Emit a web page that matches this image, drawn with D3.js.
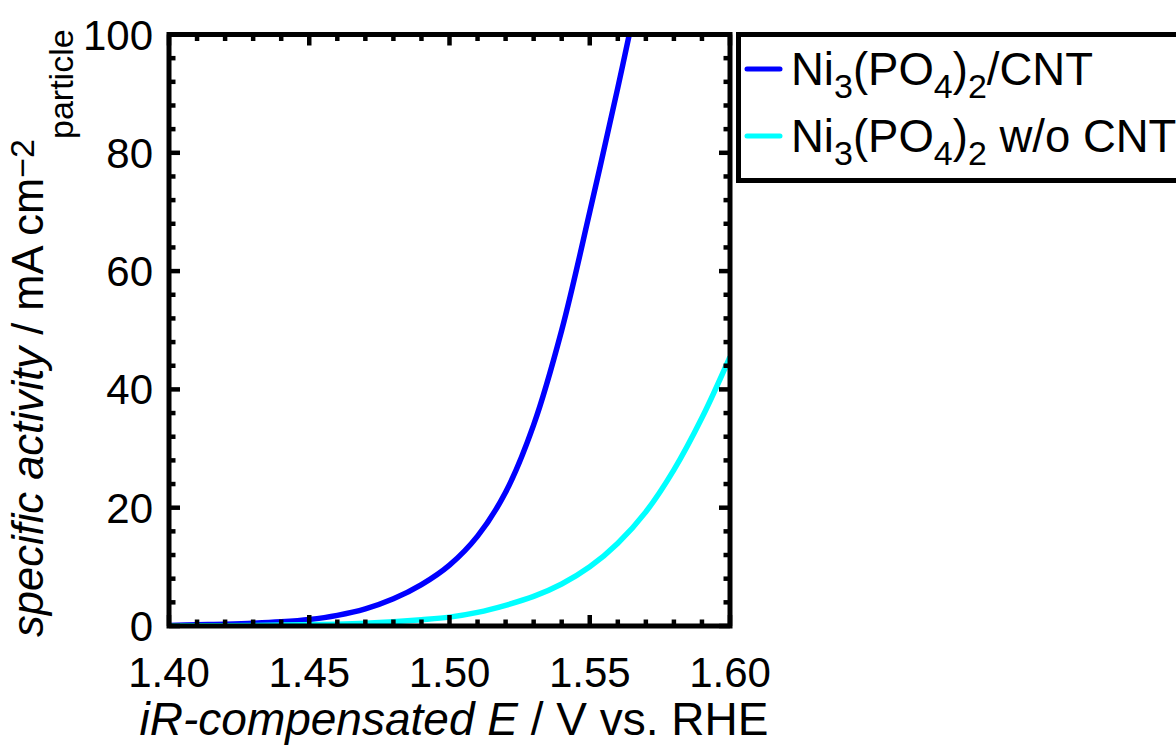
<!DOCTYPE html>
<html>
<head>
<meta charset="utf-8">
<script src="https://cdn.jsdelivr.net/npm/d3@7"></script>
<style>
  html, body { margin: 0; padding: 0; background: #fff; }
  svg { display: block; }
  text { font-family: "Liberation Sans", Arial, sans-serif; fill: #000; }
</style>
</head>
<body>
<svg id="chart" width="1176" height="750"></svg>
<script>
// ---- data ----
const seriesNames = ["Ni3(PO4)2/CNT", "Ni3(PO4)2 w/o CNT"];
const seriesColors = ["#0000ff", "#00ffff"];
const cntE = [1.40,1.41,1.42,1.43,1.44,1.45,1.46,1.47,1.48,1.49,1.50,1.51,1.52,1.53,1.54,1.55,1.56,1.565];
const cntJ = [0.1,0.2,0.3,0.45,0.7,1.1,1.8,2.9,4.6,7.0,10.3,15.2,22.6,34.0,50.0,70.0,91.0,102.0];
const woE = [1.40,1.42,1.44,1.46,1.47,1.48,1.49,1.50,1.51,1.52,1.53,1.54,1.55,1.56,1.57,1.58,1.59,1.60];
const woJ = [0.0,0.05,0.15,0.3,0.45,0.7,1.05,1.5,2.3,3.5,5.0,7.1,10.0,14.0,19.3,26.4,35.2,45.5];
const xMajorTicks = [1.40,1.45,1.50,1.55,1.60];
const xTickLabels = ["1.40","1.45","1.50","1.55","1.60"];
const yMajorTicks = [0,20,40,60,80,100];
const yTickLabels = ["0","20","40","60","80","100"];

// ---- layout ----
const svg = d3.select("#chart");
const L = 169, R = 730, T = 34.5, B = 626;
const x = d3.scaleLinear().domain([1.40, 1.60]).range([L, R]);
const y = d3.scaleLinear().domain([0, 100]).range([B, T]);

svg.append("defs").append("clipPath").attr("id", "clip")
  .append("rect").attr("x", L).attr("y", T).attr("width", R - L).attr("height", B - T);

// curves
const line = d3.line().x(d => x(d[0])).y(d => y(d[1])).curve(d3.curveCatmullRom.alpha(0.5));
const series = [d3.zip(cntE, cntJ), d3.zip(woE, woJ)];
[0, 1].forEach(i => {
  svg.append("path")
    .attr("d", line(series[i]))
    .attr("fill", "none")
    .attr("stroke", seriesColors[i])
    .attr("stroke-width", 5.5)
    .attr("stroke-linejoin", "round")
    .attr("clip-path", "url(#clip)");
});

// ticks (inward on all sides)
const xMinor = d3.range(0, 21).map(i => 1.40 + i * 0.01).filter(v => !xMajorTicks.some(m => Math.abs(m - v) < 1e-9));
const yMinor = d3.range(0, 26).map(i => i * 4).filter(v => v % 20 !== 0);
const tickG = svg.append("g").attr("stroke", "#000").attr("stroke-width", 4.5);
function xt(v, len) {
  tickG.append("line").attr("x1", x(v)).attr("x2", x(v)).attr("y1", B).attr("y2", B - len);
  tickG.append("line").attr("x1", x(v)).attr("x2", x(v)).attr("y1", T).attr("y2", T + len);
}
function yt(v, len) {
  tickG.append("line").attr("y1", y(v)).attr("y2", y(v)).attr("x1", L).attr("x2", L + len);
  tickG.append("line").attr("y1", y(v)).attr("y2", y(v)).attr("x1", R).attr("x2", R - len);
}
xMajorTicks.forEach(v => xt(v, 11));
xMinor.forEach(v => xt(v, 6.5));
yMajorTicks.forEach(v => yt(v, 11));
yMinor.forEach(v => yt(v, 6.5));

// frame
svg.append("rect").attr("x", L).attr("y", T).attr("width", R - L).attr("height", B - T)
  .attr("fill", "none").attr("stroke", "#000").attr("stroke-width", 5);

// tick labels
xMajorTicks.forEach((v, i) => {
  svg.append("text").attr("x", x(v)).attr("y", 687).attr("text-anchor", "middle")
    .attr("font-size", 42).text(xTickLabels[i]);
});
yMajorTicks.forEach((v, i) => {
  svg.append("text").attr("x", 153).attr("y", y(v) + 15).attr("text-anchor", "end")
    .attr("font-size", 42).text(yTickLabels[i]);
});

// x axis title
const xt1 = svg.append("text").attr("x", 454).attr("y", 735).attr("text-anchor", "middle").attr("font-size", 46);
xt1.append("tspan").attr("font-style", "italic").text("iR-compensated E");
xt1.append("tspan").text(" / V vs. RHE");

// y axis title
const yt1 = svg.append("text").attr("transform", "translate(43,637) rotate(-90)").attr("font-size", 43.5);
yt1.append("tspan").attr("font-style", "italic").text("specific activity");
yt1.append("tspan").text(" / mA cm");
yt1.append("tspan").attr("font-size", 34).attr("dy", -9).text("\u22122");
yt1.append("tspan").attr("font-size", 34).attr("dy", 39).text("particle");

// legend
svg.append("rect").attr("x", 738.5).attr("y", 34.5).attr("width", 500).attr("height", 146)
  .attr("fill", "#fff").attr("stroke", "#000").attr("stroke-width", 5);
const legY = [69, 136];
const legBase = [85, 152];
[0, 1].forEach(i => {
  svg.append("line").attr("x1", 747).attr("x2", 780).attr("y1", legY[i]).attr("y2", legY[i])
    .attr("stroke", seriesColors[i]).attr("stroke-width", 5).attr("stroke-linecap", "round");
  const t = svg.append("text").attr("x", 791).attr("y", legBase[i]).attr("font-size", 45.5);
  t.append("tspan").text("Ni");
  t.append("tspan").attr("font-size", 34).attr("dy", 13).text("3");
  t.append("tspan").attr("dy", -13).text("(PO");
  t.append("tspan").attr("font-size", 34).attr("dy", 13).text("4");
  t.append("tspan").attr("dy", -13).text(")");
  t.append("tspan").attr("font-size", 34).attr("dy", 13).text("2");
  t.append("tspan").attr("dy", -13).text(i === 0 ? "/CNT" : " w/o CNT");
});
</script>
</body>
</html>
